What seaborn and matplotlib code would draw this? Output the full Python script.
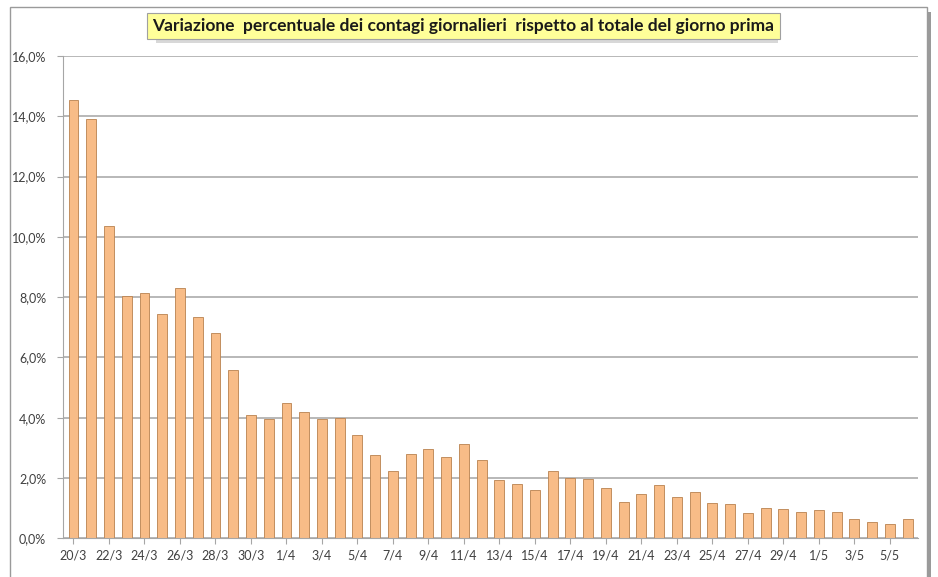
import numpy as np
import pandas as pd
import seaborn as sns
import matplotlib.pyplot as plt
from matplotlib.patches import Rectangle
from matplotlib.ticker import FuncFormatter

# Days from 20/3 to 6/5
days = ['20/3', '21/3', '22/3', '23/3', '24/3', '25/3', '26/3', '27/3', '28/3', '29/3',
        '30/3', '31/3', '1/4', '2/4', '3/4', '4/4', '5/4', '6/4', '7/4', '8/4',
        '9/4', '10/4', '11/4', '12/4', '13/4', '14/4', '15/4', '16/4', '17/4', '18/4',
        '19/4', '20/4', '21/4', '22/4', '23/4', '24/4', '25/4', '26/4', '27/4', '28/4',
        '29/4', '30/4', '1/5', '2/5', '3/5', '4/5', '5/5', '6/5']

# Daily percentage change of infections vs previous day's total
variazione = [14.55, 13.9, 10.35, 8.05, 8.15, 7.45, 8.3, 7.35, 6.8, 5.6,
              4.1, 3.95, 4.5, 4.2, 3.95, 4.0, 3.42, 2.75, 2.25, 2.8,
              2.97, 2.7, 3.13, 2.6, 1.95, 1.8, 1.6, 2.22, 2.0, 1.98,
              1.68, 1.22, 1.47, 1.78, 1.36, 1.54, 1.18, 1.13, 0.84, 0.99,
              0.98, 0.88, 0.93, 0.87, 0.63, 0.55, 0.48, 0.65]

df = pd.DataFrame({'giorno': days, 'variazione': variazione})

sns.set_style('white')
plt.rcParams['font.family'] = ['Lato', 'DejaVu Sans']

fig = plt.figure(figsize=(9.38, 5.77), dpi=100)
ax = fig.add_axes([0.067, 0.067, 0.912, 0.836])

sns.barplot(data=df, x='giorno', y='variazione', color='#F8BC87',
            edgecolor='#B9814F', linewidth=0.6, width=0.56, saturation=1, ax=ax)

ax.set_ylim(0, 16)
ax.set_yticks(np.arange(0, 16.1, 2))
ax.yaxis.set_major_formatter(FuncFormatter(lambda v, p: f'{v:.1f}%'.replace('.', ',')))
ax.set_xlim(-0.6, len(days) - 0.4)
ax.set_xticks(range(0, len(days), 2))
ax.set_xticklabels(days[::2])
ax.set_xlabel('')
ax.set_ylabel('')

ax.grid(axis='y', color='#ABABAB', linewidth=1.2)
ax.set_axisbelow(True)
for s in ['top', 'right']:
    ax.spines[s].set_visible(False)
ax.spines['left'].set_color('#A6A6A6')
ax.spines['bottom'].set_color('#A6A6A6')
ax.tick_params(axis='y', left=True, length=4, color='#A6A6A6', labelsize=9,
               labelcolor='#404040', pad=8)
ax.tick_params(axis='x', bottom=True, length=4, color='#A6A6A6', labelsize=9,
               labelcolor='#404040', pad=4)

# chart frame with shadow on the right
fig.patches.append(Rectangle((0.011, -0.05), 0.977, 1.038, transform=fig.transFigure,
                             fill=False, edgecolor='#9A9A9A', linewidth=1.0))
fig.patches.append(Rectangle((0.989, -0.05), 0.004, 1.03, transform=fig.transFigure,
                             facecolor='#9A9A9A', edgecolor='none'))

# title box shadow
fig.patches.append(Rectangle((0.166, 0.925), 0.663, 0.052, transform=fig.transFigure,
                             facecolor='#C8C8C8', edgecolor='none', alpha=0.7))
fig.text(0.494, 0.955,
         'Variazione  percentuale dei contagi giornalieri  rispetto al totale del giorno prima',
         ha='center', va='center', fontsize=12.5, fontweight='bold', color='#1A1A1A',
         bbox=dict(boxstyle='square,pad=0.3', facecolor='#FFFF99', edgecolor='#A0A0A0',
                   linewidth=0.8))

fig.savefig('out.png', dpi=100)
